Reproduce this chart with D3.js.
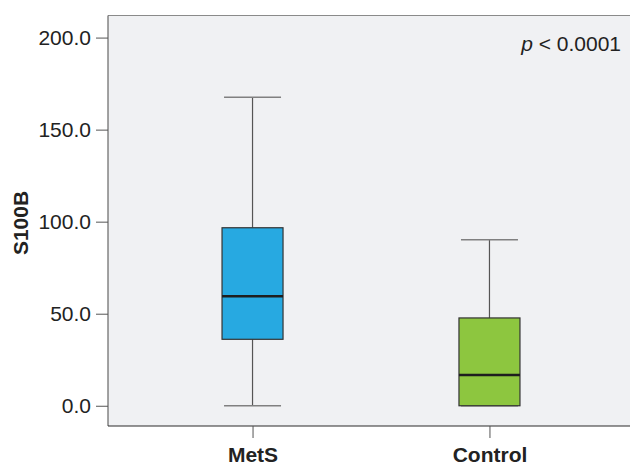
<!DOCTYPE html>
<html>
<head>
<meta charset="utf-8">
<script src="https://cdn.jsdelivr.net/npm/d3@7"></script>
<style>
  body { margin: 0; background: #fff; }
  text { font-family: "Liberation Sans", Arial, sans-serif; fill: #222; }
</style>
</head>
<body>
<div id="chart"></div>
<script>
// box plot values
const groups = ["MetS", "Control"];
const mins = [0, 0];
const q1 = [36.1, 0];
const medians = [59.5, 16.7];
const q3 = [96.7, 47.7];
const maxs = [167.6, 90.2];
const colors = ["#27a9e1", "#8dc63f"];
const yTicks = [0, 50, 100, 150, 200];

const width = 630, height = 467;
const plotLeft = 108, plotTop = 15.5, plotBottom = 426, plotRight = 634;
const fontSize = 21;

const svg = d3.select("#chart")
    .append("svg")
    .attr("width", width)
    .attr("height", height);

const y = d3.scaleLinear()
    .domain([-11, 212])
    .range([plotBottom, plotTop]);

const x = d3.scalePoint()
    .domain(groups)
    .range([plotLeft, plotRight])
    .padding(0.61);

// plot background
svg.append("rect")
    .attr("x", plotLeft)
    .attr("y", plotTop)
    .attr("width", plotRight - plotLeft)
    .attr("height", plotBottom - plotTop)
    .attr("fill", "#f0f1f3");

// frame
svg.append("line").attr("x1", plotLeft).attr("x2", plotRight).attr("y1", plotTop).attr("y2", plotTop)
    .attr("stroke", "#8a8a8a").attr("stroke-width", 1.2);
svg.append("line").attr("x1", plotLeft).attr("x2", plotLeft).attr("y1", plotTop).attr("y2", plotBottom)
    .attr("stroke", "#666").attr("stroke-width", 1.2);
svg.append("line").attr("x1", plotLeft).attr("x2", plotRight).attr("y1", plotBottom).attr("y2", plotBottom)
    .attr("stroke", "#2a2a2a").attr("stroke-width", 1.2);

// y axis
const yAxis = svg.append("g")
    .attr("transform", `translate(${plotLeft}, 0)`)
    .call(d3.axisLeft(y).tickValues(yTicks).tickFormat(d3.format(".1f")).tickSize(12).tickPadding(5));
yAxis.select(".domain").remove();
yAxis.selectAll("line").attr("stroke", "#555");
yAxis.selectAll("text").attr("font-size", fontSize).attr("font-family", "Liberation Sans, Arial, sans-serif").attr("fill", "#222");

// x axis
const xAxis = svg.append("g")
    .attr("transform", `translate(0, ${plotBottom})`)
    .call(d3.axisBottom(x).tickSize(12).tickPadding(9));
xAxis.select(".domain").remove();
xAxis.selectAll("line").attr("stroke", "#555");
xAxis.selectAll("text").attr("font-size", fontSize).attr("font-weight", "bold")
    .attr("font-family", "Liberation Sans, Arial, sans-serif").attr("fill", "#222");

// axis title
svg.append("text")
    .attr("transform", "translate(28, 223) rotate(-90)")
    .attr("text-anchor", "middle")
    .attr("font-size", fontSize)
    .attr("font-weight", "bold")
    .text("S100B");

// boxes
const boxW = 61, capW = 57;
const g = svg.append("g");
groups.forEach((grp, i) => {
    const cx = x(grp);
    // whiskers
    g.append("line").attr("x1", cx).attr("x2", cx).attr("y1", y(maxs[i])).attr("y2", y(q3[i]))
        .attr("stroke", "#555").attr("stroke-width", 1.2);
    g.append("line").attr("x1", cx).attr("x2", cx).attr("y1", y(q1[i])).attr("y2", y(mins[i]))
        .attr("stroke", "#555").attr("stroke-width", 1.2);
    g.append("line").attr("x1", cx - capW / 2).attr("x2", cx + capW / 2).attr("y1", y(maxs[i])).attr("y2", y(maxs[i]))
        .attr("stroke", "#808080").attr("stroke-width", 1.5);
    g.append("line").attr("x1", cx - capW / 2).attr("x2", cx + capW / 2).attr("y1", y(mins[i])).attr("y2", y(mins[i]))
        .attr("stroke", "#808080").attr("stroke-width", 1.5);
    // box
    g.append("rect")
        .attr("x", cx - boxW / 2)
        .attr("y", y(q3[i]))
        .attr("width", boxW)
        .attr("height", y(q1[i]) - y(q3[i]))
        .attr("fill", colors[i])
        .attr("stroke", "#333")
        .attr("stroke-width", 1.2);
    // median
    g.append("line").attr("x1", cx - boxW / 2).attr("x2", cx + boxW / 2).attr("y1", y(medians[i])).attr("y2", y(medians[i]))
        .attr("stroke", "#1e1e1e").attr("stroke-width", 2.6);
});

// p value
const pText = svg.append("text")
    .attr("x", 621)
    .attr("y", 51)
    .attr("text-anchor", "end")
    .attr("font-size", fontSize);
pText.append("tspan").attr("font-style", "italic").text("p");
pText.append("tspan").text(" < 0.0001");
</script>
</body>
</html>
